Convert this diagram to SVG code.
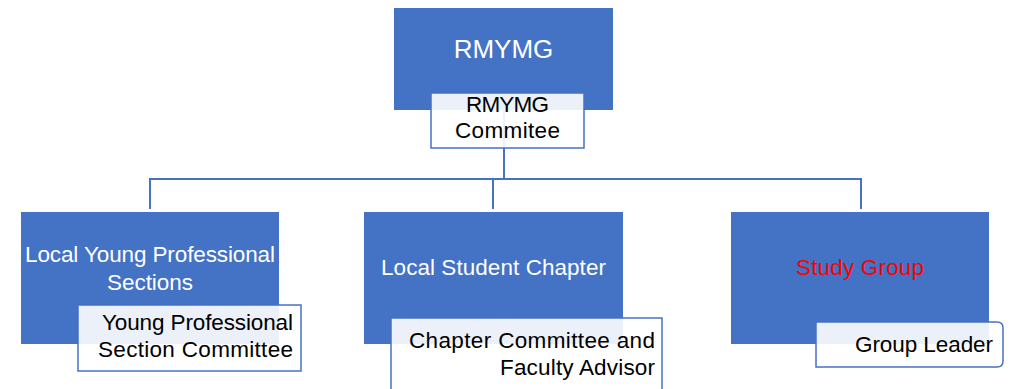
<svg xmlns="http://www.w3.org/2000/svg" width="1018" height="389" viewBox="0 0 1018 389">
<style>
.main{fill:#4472C4}
.sub{fill:#FFFFFF;fill-opacity:0.9;stroke:#4472C4;stroke-width:1.5}
.conn{fill:none;stroke:#4472C4;stroke-width:2}
text{font-family:"Liberation Sans",Arial,sans-serif;font-size:22.5px}
.w{fill:#FFFFFF}
.k{fill:#000000}
.mid{text-anchor:middle}
.end{text-anchor:end}
</style>
<rect width="1018" height="389" fill="#FFFFFF"/>
<g id="connectors">
<path class="conn" d="M504,110 V179"/>
<path class="conn" d="M150,209 V179 H861 V209"/>
<path class="conn" d="M493,179 V209"/>
</g>
<g id="rmymg">
<rect class="main" x="394" y="8" width="219" height="102"/>
<text class="w mid" x="503.5" y="58" style="font-size:26px">RMYMG</text>
</g>
<g id="rmymg-committee">
<rect class="sub" x="431" y="93" width="153" height="55"/>
<text class="k mid" x="507.5" y="112" textLength="83">RMYMG</text>
<text class="k mid" x="507.5" y="138" textLength="105">Commitee</text>
</g>
<g id="local-yp-sections">
<rect class="main" x="21" y="212" width="258" height="132"/>
<text class="w mid" x="150" y="262" textLength="250">Local Young Professional</text>
<text class="w mid" x="150" y="290" textLength="86">Sections</text>
</g>
<g id="yp-section-committee">
<rect class="sub" x="78" y="305" width="223" height="66"/>
<text class="k end" x="293" y="330" textLength="191">Young Professional</text>
<text class="k end" x="293" y="357" textLength="195">Section Committee</text>
</g>
<g id="local-student-chapter">
<rect class="main" x="364" y="212" width="259" height="132"/>
<text class="w mid" x="493.5" y="275" textLength="225">Local Student Chapter</text>
</g>
<g id="chapter-committee">
<rect class="sub" x="391" y="318" width="271" height="100"/>
<text class="k end" x="655" y="348" textLength="246">Chapter Committee and</text>
<text class="k end" x="655" y="375" textLength="155">Faculty Advisor</text>
</g>
<g id="study-group">
<rect class="main" x="731" y="212" width="258" height="132"/>
<text class="mid" x="860" y="275" fill="#FF0000" textLength="128">Study Group</text>
</g>
<g id="group-leader">
<path class="sub" d="M816,322 H997 Q1003,322 1003,328 V361 Q1003,367 997,367 H816 Z"/>
<text class="k end" x="993" y="352" textLength="138">Group Leader</text>
</g>
</svg>
